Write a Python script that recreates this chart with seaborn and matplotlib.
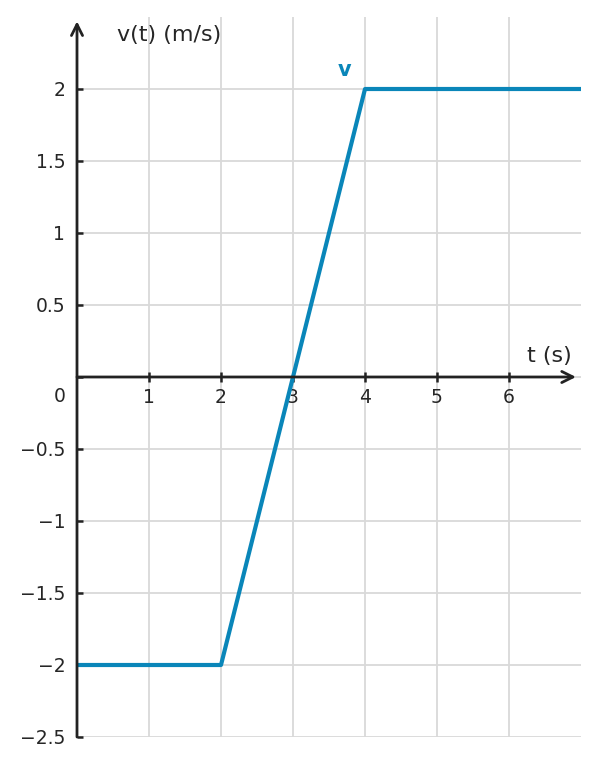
import matplotlib
matplotlib.use("Agg")
import matplotlib.pyplot as plt
import seaborn as sns
import pandas as pd

# ---------------------------------------------------------
# data: piecewise velocity v(t)
# ---------------------------------------------------------
t_vals = [0, 2, 4, 7]
v_vals = [-2, -2, 2, 2]
x_ticks = [1, 2, 3, 4, 5, 6]
x_labels = ["1", "2", "3", "4", "5", "6"]
y_ticks = [-2.5, -2, -1.5, -1, -0.5, 0, 0.5, 1, 1.5, 2]
y_labels = ["−2.5", "−2", "−1.5", "−1", "−0.5", "", "0.5", "1", "1.5", "2"]

df = pd.DataFrame({"t": t_vals, "v": v_vals})

sns.set_theme(style="whitegrid")
plt.rcParams["font.family"] = ["DejaVu Sans"]

blue = "#0a86b9"
dark = "#222222"
txt = "#262626"

fig = plt.figure(figsize=(5.99, 7.65), dpi=100)
ax = fig.add_axes([77 / 599, 28 / 765, 504 / 599, 720 / 765])
ax.set_facecolor("white")

sns.lineplot(data=df, x="t", y="v", color=blue, linewidth=3, ax=ax,
             solid_capstyle="round", zorder=4)

ax.set_xlim(0, 7)
ax.set_ylim(-2.5, 2.5)
ax.set_xticks(x_ticks)
ax.set_xticklabels(x_labels)
ax.set_yticks(y_ticks)
ax.set_yticklabels(y_labels)
ax.set_xlabel("")
ax.set_ylabel("")
ax.grid(True, color="#d9d9d9", linewidth=1.3)

for side in ["top", "right", "left", "bottom"]:
    ax.spines[side].set_visible(False)
ax.spines["bottom"].set_position(("data", 0))

ax.tick_params(axis="x", direction="inout", length=7, width=1.8, color=dark,
               pad=4.2, labelsize=13.5, labelcolor=txt, bottom=True)
ax.tick_params(axis="y", direction="in", length=4, width=1.8, color=dark,
               pad=8.5, labelsize=13.5, labelcolor=txt, left=True)

# axis arrows
arrow = dict(arrowstyle="->", color=dark, lw=2, shrinkA=0, shrinkB=0,
             mutation_scale=20)
ax.annotate("", xy=(0, 2.47), xytext=(0, -2.5), arrowprops=arrow,
            annotation_clip=False, zorder=5)
ax.annotate("", xy=(6.93, 0), xytext=(0, 0), arrowprops=arrow,
            annotation_clip=False, zorder=5)

ax.text(0.56, 2.375, "v(t) (m/s)", ha="left", va="center", fontsize=16,
        color=txt)
ax.text(6.875, 0.146, "t (s)", ha="right", va="center", fontsize=16,
        color=txt)
ax.text(-0.236, -0.132, "0", ha="center", va="center", fontsize=13.5,
        color=txt)
ax.text(3.72, 2.13, "v", ha="center", va="center", fontsize=15,
        fontweight="bold", color=blue)

fig.savefig("out.png", dpi=100)
